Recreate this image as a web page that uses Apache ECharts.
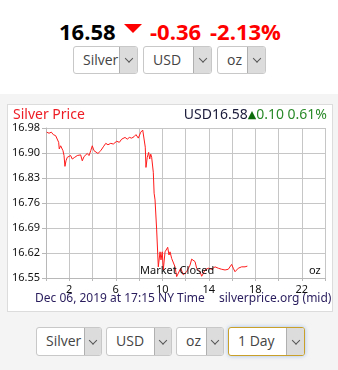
<!DOCTYPE html>
<html>
<head>
<meta charset="utf-8">
<script src="https://cdn.jsdelivr.net/npm/echarts@6/dist/echarts.min.js"></script>
<style>
  html, body { margin: 0; padding: 0; }
  body { width: 338px; height: 370px; position: relative; overflow: hidden; background: #f4f4f4; font-family: "Open Sans", "Noto Sans", sans-serif; }
  #top { position: absolute; left: 0; top: 0; width: 338px; height: 94px; background: #fff; }
  .hdr { position: absolute; top: 16px; font-weight: bold; font-size: 22px; line-height: 30px; white-space: nowrap; }
  .tri { position: absolute; left: 124px; top: 24px; width: 0; height: 0; border-left: 9px solid transparent; border-right: 9px solid transparent; border-top: 9px solid #ff0000; }
  .sel { position: absolute; box-sizing: border-box; height: 28px; border: 1px solid #c8c8c8; border-radius: 3px; background: #fff; font-size: 14px; color: #444; line-height: 26px; }
  .sel .t { position: absolute; left: 9px; top: 0; }
  .sel .a { position: absolute; top: 0; right: 0; bottom: 0; background: #dcdcdc; border-left: 1px solid #b0b0b0; border-radius: 0 2px 2px 0; }
  .sel .a::after { content: ""; position: absolute; left: 50%; top: 50%; width: 5px; height: 5px; border-right: 1px solid #555; border-bottom: 1px solid #555; transform: translate(-50%, -75%) rotate(45deg); }
  #box { position: absolute; left: 7px; top: 104px; width: 326px; height: 208px; box-sizing: border-box; background: #fff; border: 1px solid #dcdcdc; }
  #chart { position: absolute; left: 0; top: 0; width: 338px; height: 370px; }
</style>
</head>
<body>
<div id="top">
  <div class="hdr" style="left:59px;color:#000;">16.58</div>
  <div class="tri"></div>
  <div class="hdr" style="left:150px;color:#ff0000;">-0.36</div>
  <div class="hdr" style="left:210px;color:#ff0000;">-2.13%</div>
  <div class="sel" style="left:73px;top:46px;width:65px;"><span class="t">Silver</span><span class="a" style="width:17px;"></span></div>
  <div class="sel" style="left:143px;top:46px;width:69px;"><span class="t">USD</span><span class="a" style="width:17px;"></span></div>
  <div class="sel" style="left:217px;top:46px;width:49px;"><span class="t">oz</span><span class="a" style="width:17px;"></span></div>
</div>
<div id="box"></div>
<div class="sel" style="left:36px;top:327px;width:66px;height:29px;"><span class="t">Silver</span><span class="a" style="width:16px;"></span></div>
<div class="sel" style="left:106px;top:327px;width:66px;height:29px;"><span class="t">USD</span><span class="a" style="width:16px;"></span></div>
<div class="sel" style="left:176px;top:327px;width:48px;height:29px;"><span class="t">oz</span><span class="a" style="width:16px;"></span></div>
<div class="sel" style="left:228px;top:327px;width:77px;height:29px;border-color:#c9a02a;box-shadow:0 0 4px rgba(110,160,230,0.6);"><span class="t">1 Day</span><span class="a" style="width:17px;"></span></div>
<div id="chart"></div>
<script>
// ---- data (hours of day, price in USD/oz) ----
var hours = [0.06,0.26,0.46,0.63,0.83,0.97,1.09,1.14,1.26,1.38,1.46,1.55,1.63,1.72,1.83,1.98,2.12,2.26,2.47,2.69,2.84,2.98,3.12,3.27,3.42,3.55,3.70,3.85,3.98,4.13,4.28,4.47,4.71,4.93,5.14,5.33,5.57,5.79,6.08,6.31,6.51,6.65,6.80,6.99,7.17,7.37,7.57,7.74,7.94,8.15,8.32,8.43,8.54,8.60,8.71,8.83,8.92,9.01,9.09,9.18,9.23,9.30,9.38,9.52,9.66,9.81,9.89,10.00,10.09,10.24,10.38,10.47,10.58,10.67,10.81,10.95,11.10,11.24,11.38,11.59,11.81,12.10,12.39,12.53,12.67,12.82,12.96,13.10,13.25,13.39,13.53,13.68,13.82,13.96,14.11,14.25,14.39,14.54,14.68,14.82,14.97,15.11,15.25,15.40,15.54,15.68,15.83,15.97,16.11,16.26,16.40,16.54,16.69,16.83,16.97,17.12,17.32];
var prices = [16.968,16.965,16.968,16.961,16.958,16.955,16.939,16.920,16.929,16.934,16.915,16.901,16.870,16.886,16.896,16.891,16.901,16.891,16.896,16.901,16.896,16.903,16.886,16.898,16.893,16.907,16.901,16.915,16.929,16.915,16.910,16.907,16.915,16.926,16.936,16.932,16.936,16.934,16.942,16.939,16.948,16.946,16.953,16.948,16.953,16.951,16.955,16.961,16.951,16.968,16.974,16.974,16.925,16.867,16.896,16.910,16.891,16.905,16.896,16.901,16.853,16.793,16.774,16.688,16.582,16.625,16.602,16.625,16.573,16.625,16.630,16.638,16.616,16.625,16.606,16.611,16.582,16.554,16.550,16.578,16.559,16.568,16.587,16.604,16.599,16.597,16.578,16.575,16.568,16.555,16.563,16.573,16.573,16.578,16.578,16.575,16.578,16.582,16.580,16.578,16.573,16.575,16.570,16.573,16.570,16.575,16.580,16.589,16.578,16.568,16.573,16.578,16.576,16.582,16.580,16.582,16.584];
var yTicks = ["16.55","16.62","16.69","16.76","16.83","16.90","16.98"];
var xTicks = ["2","6","10","14","18","22"];
var yMin = 16.55, yMax = 16.98;

var yStep = (yMax - yMin) / (yTicks.length - 1);
var seriesData = hours.map(function (h, i) { return [h, prices[i]]; });

var chart = echarts.init(document.getElementById('chart'), null, { renderer: 'canvas' });
var gridColor = '#c6c6c6';
var txtFont = '"Noto Sans", "DejaVu Sans", sans-serif';
chart.setOption({
  animation: false,
  backgroundColor: 'transparent',
  grid: { left: 46, top: 128, width: 279, height: 150, containLabel: false },
  xAxis: {
    type: 'value', min: 0, max: 24, interval: 2,
    axisLine: { show: true, lineStyle: { color: '#b8b8b8', width: 1 } },
    axisTick: { show: true, length: 3, lineStyle: { color: '#b8b8b8' } },
    splitLine: { show: true, lineStyle: { color: gridColor, width: 1 } },
    axisLabel: {
      margin: 6, color: '#111', fontSize: 11, fontFamily: txtFont,
      formatter: function (v) { var s = String(Math.round(v)); return xTicks.indexOf(s) >= 0 ? s : ''; }
    }
  },
  yAxis: {
    type: 'value', min: yMin, max: yMax, interval: yStep,
    axisLine: { show: true, lineStyle: { color: '#b8b8b8', width: 1 } },
    axisTick: { show: true, length: 4, lineStyle: { color: '#b8b8b8' } },
    splitLine: { show: true, lineStyle: { color: gridColor, width: 1 } },
    axisLabel: {
      margin: 6, color: '#111', fontSize: 11, fontFamily: txtFont,
      formatter: function (v) { var i = Math.round((v - yMin) / yStep); return yTicks[i] || ''; }
    }
  },
  series: [{
    type: 'line', data: seriesData, showSymbol: false, symbol: 'none',
    lineStyle: { color: '#ff1a1a', width: 1 }, z: 3
  }],
  graphic: [
    { type: 'text', left: 13, top: 108, style: { text: 'Silver Price', fill: '#ee1c24', fontSize: 14, fontFamily: txtFont } },
    { type: 'text', right: 11, top: 108, style: {
        text: '{a|USD16.58}{t|▲}{g|0.10 0.61%}', fontSize: 14, fontFamily: txtFont,
        rich: {
          a: { fill: '#1a1a3a', fontSize: 14, fontFamily: txtFont },
          t: { fill: '#0b6b0b', fontSize: 11, fontFamily: txtFont },
          g: { fill: '#2a8a2a', fontSize: 14, fontFamily: txtFont }
        } } },
    { type: 'text', left: 140, top: 265, z: 10, style: { text: 'Market Closed', fill: '#111', fontSize: 11, fontFamily: txtFont } },
    { type: 'text', left: 309, top: 265, z: 10, style: { text: 'oz', fill: '#111', fontSize: 11, fontFamily: txtFont } },
    { type: 'text', left: 35, top: 293, style: { text: 'Dec 06, 2019 at 17:15 NY Time', fill: '#2a1d5e', fontSize: 12, fontFamily: txtFont } },
    { type: 'text', left: 219, top: 293, style: { text: 'silverprice.org (mid)', fill: '#2a1d5e', fontSize: 12, fontFamily: txtFont } }
  ]
});
</script>
</body>
</html>
